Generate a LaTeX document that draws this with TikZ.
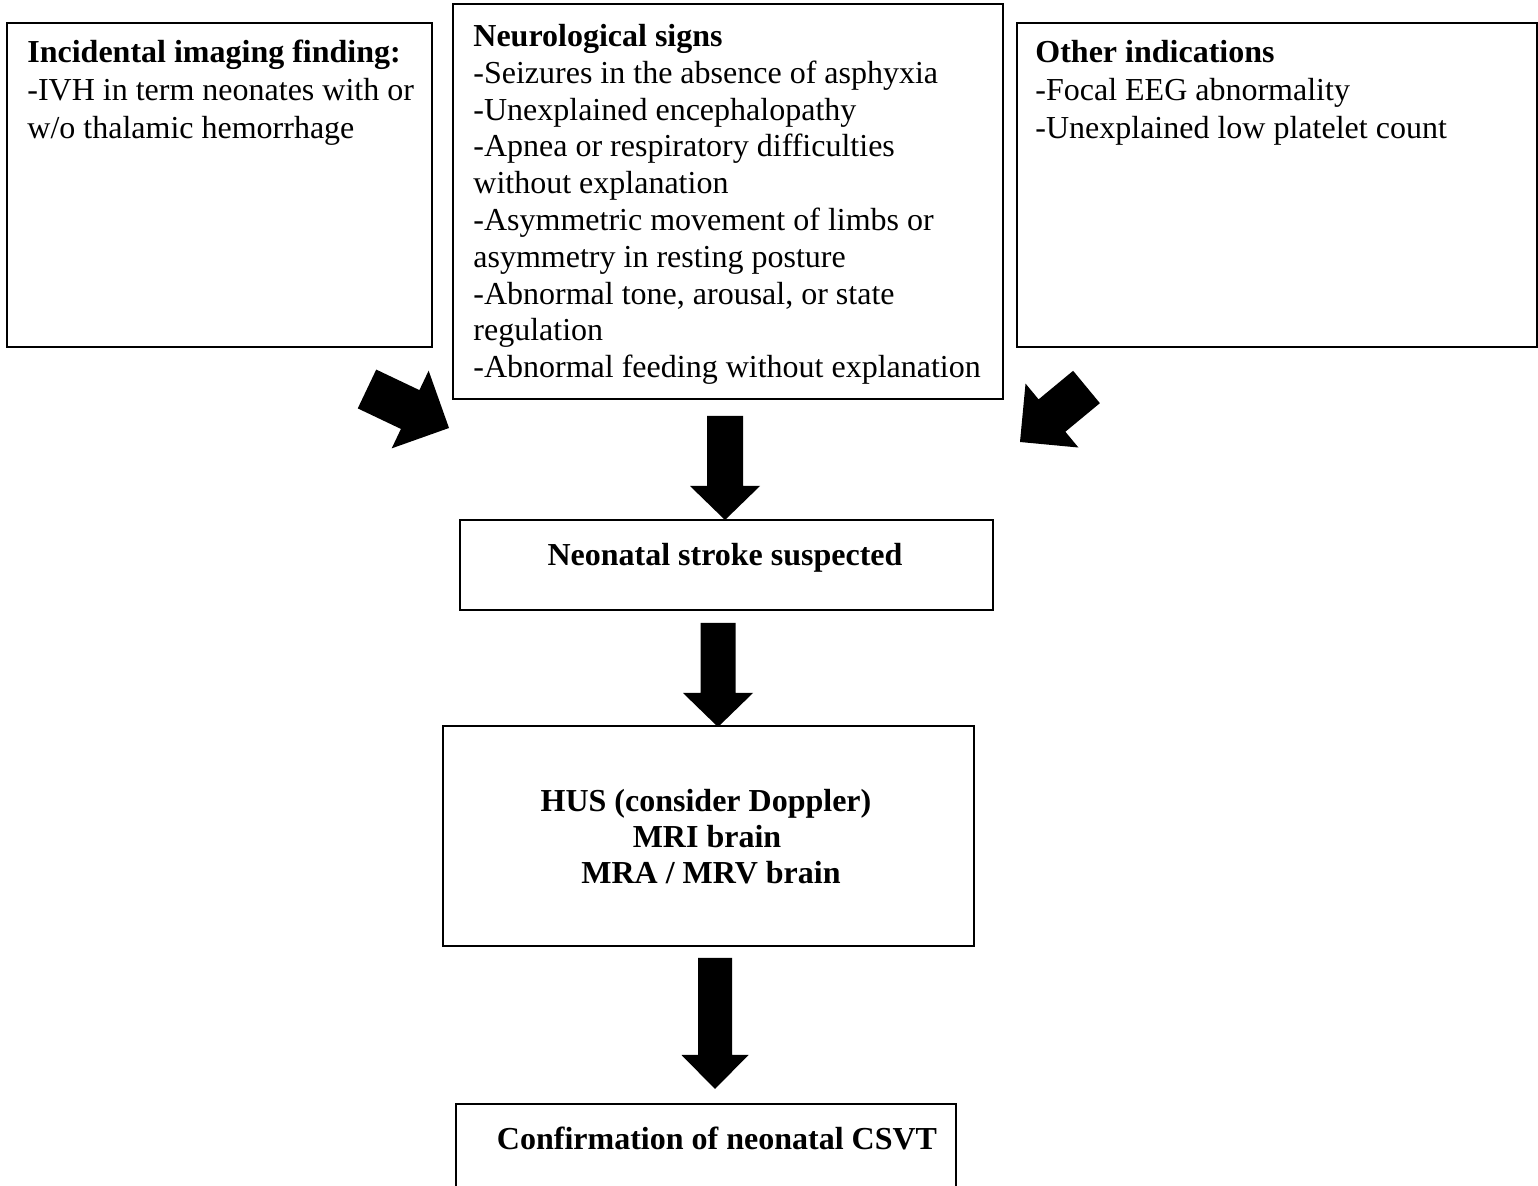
\documentclass[tikz,border=0pt]{standalone}
\usepackage{fontspec}
\setmainfont{Liberation Serif}
\usetikzlibrary{calc}
\tikzset{
  boxnode/.style={draw=black, line width=1pt, fill=white, inner sep=0pt, anchor=north west},
  sidetxt/.style={anchor=north west, inner sep=0pt, align=left, font=\fontsize{16pt}{19pt}\selectfont},
  midtxt/.style={anchor=north west, inner sep=0pt, align=left, font=\fontsize{16pt}{18.4pt}\selectfont},
  ctrtxt/.style={anchor=base, inner sep=0pt, font=\fontsize{16pt}{18pt}\selectfont\bfseries},
}
\newcommand\blockarrow[5]{%
  \coordinate (#2-hb) at ($(#2)!#5!(#1)$);
  \fill[black] ($(#1)!#3!90:(#2)$) -- ($(#2-hb)!#3!-90:(#1)$) -- ($(#2-hb)!#4!-90:(#1)$) -- (#2)
    -- ($(#2-hb)!#4!90:(#1)$) -- ($(#2-hb)!#3!90:(#1)$) -- ($(#1)!#3!-90:(#2)$) -- cycle;
}
\begin{document}
\begin{tikzpicture}[x=0.5pt, y=-0.5pt]
\useasboundingbox (0,0) rectangle (1538,1186);
\begin{scope}
\clip (0,0) rectangle (1538,1186);
% boxes
\node[boxnode, minimum width=212.5pt, minimum height=162pt] (lb) at (6,22) {};
\node[boxnode, minimum width=275pt, minimum height=197.5pt] (mb) at (452,3) {};
\node[boxnode, minimum width=260pt, minimum height=162pt] (rb) at (1016,22) {};
\node[boxnode, minimum width=266.5pt, minimum height=45pt] (sb) at (459,519) {};
\node[boxnode, minimum width=265.5pt, minimum height=110pt] (hb) at (442,725) {};
\node[boxnode, minimum width=250pt, minimum height=63.5pt] (cb) at (455,1103) {};
\end{scope}
% texts
\node[sidetxt] (lt) at (27,40) {\textbf{Incidental imaging finding:}\\-IVH in term neonates with or\\w/o thalamic hemorrhage};
\node[midtxt] (mt) at (473,24) {\textbf{Neurological signs}\\-Seizures in the absence of asphyxia\\-Unexplained encephalopathy\\-Apnea or respiratory difficulties\\without explanation\\-Asymmetric movement of limbs or\\asymmetry in resting posture\\-Abnormal tone, arousal, or state\\regulation\\-Abnormal feeding without explanation};
\node[sidetxt] (rt) at (1035,40) {\textbf{Other indications}\\-Focal EEG abnormality\\-Unexplained low platelet count};
\node[ctrtxt] (st) at (725,566) {Neonatal stroke suspected};
\node[ctrtxt] (h1) at (706,812) {HUS (consider Doppler)};
\node[ctrtxt] (h2) at (707,848) {MRI brain};
\node[ctrtxt] (h3) at (711,884) {MRA / MRV brain};
\node[ctrtxt] (ct) at (717,1150) {Confirmation of neonatal CSVT};
% arrows
\coordinate (a1s) at (725,416); \coordinate (a1e) at (725,520);
\coordinate (a2s) at (718,623); \coordinate (a2e) at (718,727);
\coordinate (a3s) at (715,958); \coordinate (a3e) at (715,1089);
\coordinate (a4s) at (367,389); \coordinate (a4e) at (449,428);
\coordinate (a5s) at (1086.5,387); \coordinate (a5e) at (1020,442);
\blockarrow{a1s}{a1e}{9pt}{17.5pt}{17pt}
\blockarrow{a2s}{a2e}{8.75pt}{17.5pt}{17pt}
\blockarrow{a3s}{a3e}{8.5pt}{16.75pt}{17pt}
\blockarrow{a4s}{a4e}{10.75pt}{21.5pt}{21.5pt}
\blockarrow{a5s}{a5e}{10.5pt}{20.75pt}{20.75pt}
\end{tikzpicture}
\end{document}
